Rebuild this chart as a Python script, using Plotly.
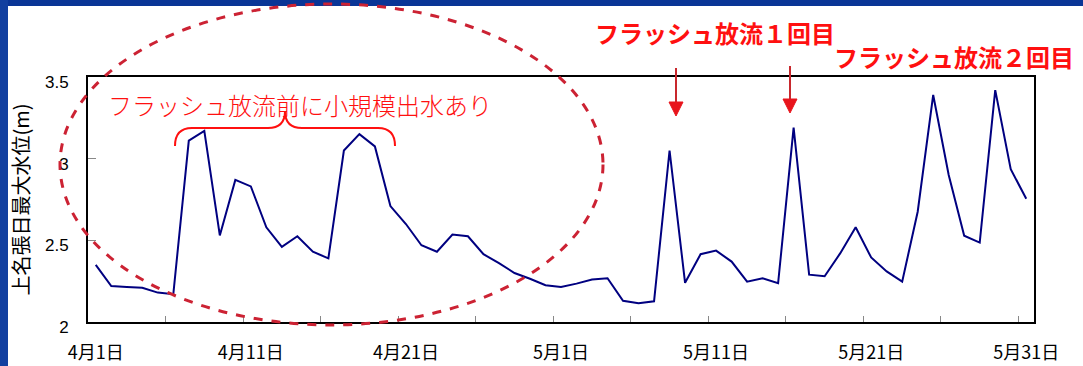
import plotly.graph_objects as go

# ---- data ----
tick_labels = ["4月1日", "4月11日", "4月21日", "5月1日", "5月11日", "5月21日", "5月31日"]
tick_index = [0, 10, 20, 30, 40, 50, 60]
day_index = list(range(61))  # 4/1 ... 5/31
water_level = [
    2.35, 2.22, 2.215, 2.21, 2.18, 2.17, 3.11, 3.17, 2.53, 2.87,
    2.83, 2.58, 2.46, 2.525, 2.43, 2.39, 3.05, 3.15, 3.075, 2.71,
    2.60, 2.47, 2.43, 2.535, 2.525, 2.415, 2.36, 2.30, 2.265, 2.225,
    2.215, 2.235, 2.26, 2.268, 2.13, 2.115, 2.127, 3.05, 2.24, 2.415,
    2.437, 2.37, 2.247, 2.267, 2.237, 3.19, 2.29, 2.28, 2.42, 2.58,
    2.395, 2.31, 2.247, 2.675, 3.39, 2.90, 2.528, 2.486, 3.42, 2.935,
    2.755,
]
y_title = "上名張日最大水位(m)"
note_pre = "フラッシュ放流前に小規模出水あり"
note_1 = "フラッシュ放流１回目"
note_2 = "フラッシュ放流２回目"

# ---- layout geometry (pixels) ----
W, H = 1083, 366
L, R, T, B = 88, 1034, 77, 322


def px(x):
    return (x - L) / (R - L)


def py(y):
    return (B - y) / (B - T)


fig = go.Figure()
fig.add_trace(go.Scatter(
    x=day_index, y=water_level, mode="lines",
    line=dict(color="#000080", width=2), showlegend=False, hoverinfo="skip",
))

jp = "Noto Sans CJK JP"
red = "#ff1010"

shapes = [
    # blue frame strips
    dict(type="rect", xref="paper", yref="paper", x0=px(0), x1=px(W), y0=py(0), y1=py(6),
         fillcolor="#0a3596", line=dict(width=0), layer="below"),
    dict(type="rect", xref="paper", yref="paper", x0=px(0), x1=px(8), y0=py(0), y1=py(H),
         fillcolor="#1240a0", line=dict(width=0), layer="below"),
    # dashed ellipse
    dict(type="circle", xref="paper", yref="paper", x0=px(60), x1=px(603), y0=py(325), y1=py(4),
         line=dict(color="#cc2233", width=3, dash="dash"), layer="above"),
    # brace
    dict(type="path", xref="paper", yref="paper",
         path=("M {a},{b} Q {a},{c} {d},{c} L {e},{c} Q {m},{c} {m},{f} "
               "Q {m},{c} {g},{c} L {h},{c} Q {i},{c} {i},{b}").format(
             a=px(175), b=py(146), c=py(128), d=px(192), e=px(268), m=px(285), f=py(111),
             g=px(302), h=px(378), i=px(395)),
         line=dict(color=red, width=2), layer="above"),
    # arrows (shafts)
    dict(type="line", xref="paper", yref="paper", x0=px(676), x1=px(676), y0=py(68), y1=py(104),
         line=dict(color="#c8282d", width=2), layer="above"),
    dict(type="line", xref="paper", yref="paper", x0=px(790), x1=px(790), y0=py(66), y1=py(101),
         line=dict(color="#c8282d", width=2), layer="above"),
    # arrow heads
    dict(type="path", xref="paper", yref="paper",
         path="M {a},{b} L {c},{b} L {d},{e} Z".format(a=px(669), c=px(683), b=py(102), d=px(676), e=py(116)),
         fillcolor="#e8141c", line=dict(color="#e8141c", width=1), layer="above"),
    dict(type="path", xref="paper", yref="paper",
         path="M {a},{b} L {c},{b} L {d},{e} Z".format(a=px(783), c=px(797), b=py(99), d=px(790), e=py(113)),
         fillcolor="#e8141c", line=dict(color="#e8141c", width=1), layer="above"),
]

annotations = [
    dict(text=note_pre, xref="paper", yref="paper", x=px(300), y=py(104), showarrow=False,
         xanchor="center", yanchor="middle", font=dict(family=jp, size=24, color=red, weight=300)),
    dict(text=note_1, xref="paper", yref="paper", x=px(715), y=py(32), showarrow=False,
         xanchor="center", yanchor="middle", font=dict(family=jp, size=24, color=red, weight="bold")),
    dict(text=note_2, xref="paper", yref="paper", x=px(954), y=py(57), showarrow=False,
         xanchor="center", yanchor="middle", font=dict(family=jp, size=24, color=red, weight="bold")),
]

fig.update_layout(
    width=W, height=H, autosize=False,
    margin=dict(l=L, r=W - R, t=T, b=H - B, pad=0, autoexpand=False),
    paper_bgcolor="white", plot_bgcolor="white",
    shapes=shapes, annotations=annotations,
    showlegend=False,
    xaxis=dict(
        range=[-0.5, 60.5], tickmode="array", tickvals=tick_index, ticktext=tick_labels,
        ticks="", showgrid=False, zeroline=False, automargin=False,
        showline=True, linecolor="black", linewidth=2, mirror=True,
        tickfont=dict(family=jp, size=18, color="black"),
        ticklabelstandoff=13,
        minor=dict(tickmode="array", tickvals=[4.5 + 5 * k for k in range(12)],
                   ticks="inside", ticklen=6, tickcolor="#888888", tickwidth=1, showgrid=False),
    ),
    yaxis=dict(
        range=[2, 3.5], tickmode="array", tickvals=[2, 2.5, 3, 3.5], ticktext=["2", "2.5", "3", "3.5"],
        ticks="inside", ticklen=8, tickcolor="#888888", tickwidth=1,
        showgrid=False, zeroline=False, automargin=False,
        showline=True, linecolor="black", linewidth=2, mirror=True,
        tickfont=dict(family="Liberation Sans", size=17, color="black"),
        ticklabelstandoff=14, ticklabelshift=5,
        title=dict(text=y_title, font=dict(family=jp, size=20, color="black"), standoff=10),
    ),
)

fig.write_html("out.html", config={"responsive": False, "displayModeBar": False})
